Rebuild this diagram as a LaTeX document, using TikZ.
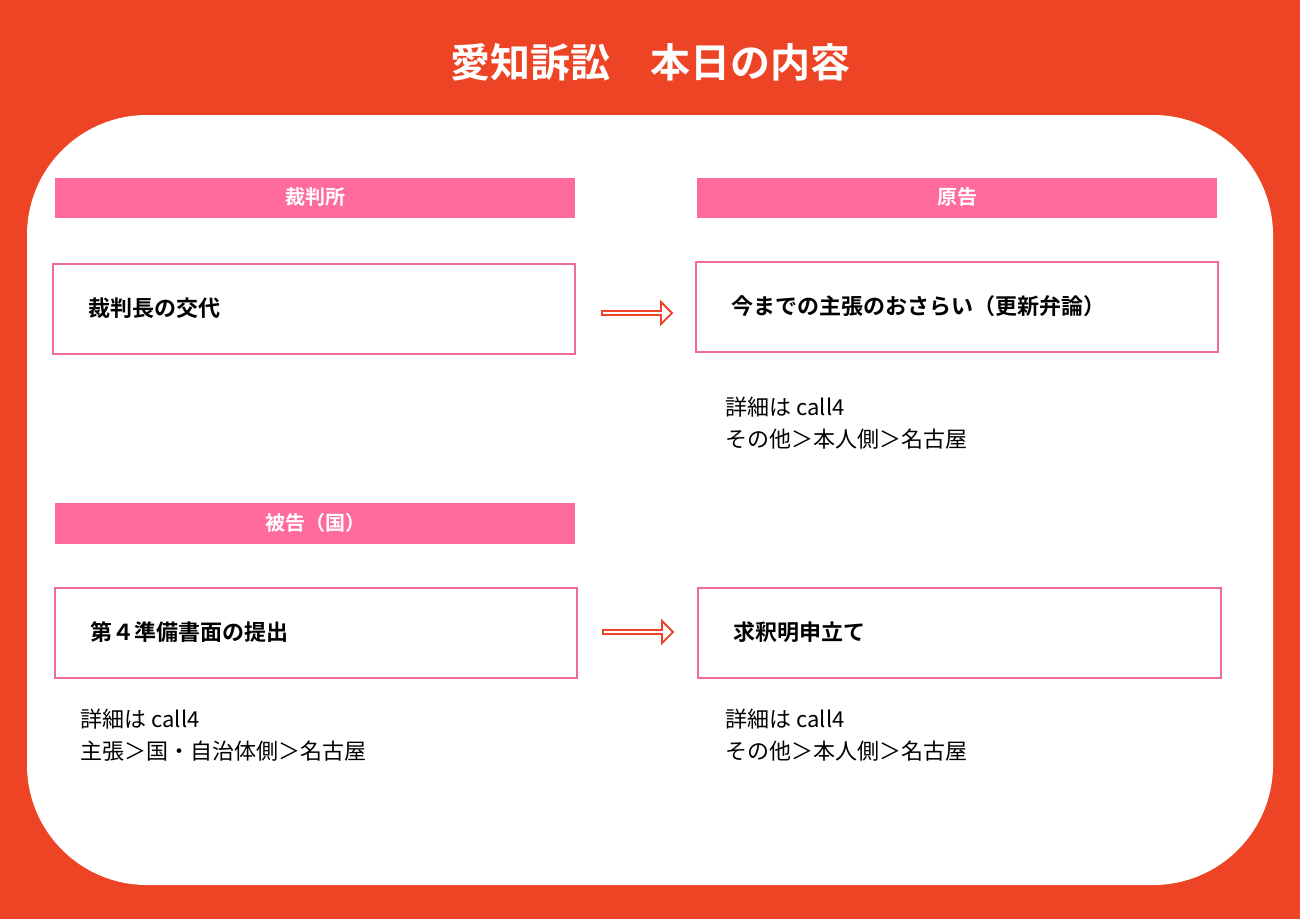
\documentclass[tikz,border=0pt]{standalone}
\usepackage{fontspec}
\setmainfont{Noto Sans CJK JP}
\newfontfamily\jpb{Noto Sans CJK JP Bold}
\usetikzlibrary{shapes.arrows}
\definecolor{bgor}{HTML}{EE4426}
\definecolor{pk}{HTML}{FF6B9A}
\definecolor{bx}{HTML}{F06A9A}
\tikzset{
 hdr/.style={fill=pk,text=white,font=\jpb\fontsize{20}{24}\selectfont},
 bbox/.style={draw=bx,line width=2.5pt,fill=white},
 btxt/.style={anchor=west,font=\jpb\fontsize{22}{26}\selectfont},
 note/.style={anchor=north west,align=left,font=\fontsize{22}{32}\selectfont},
 harrow/.style={single arrow,draw=bgor,line width=1.8pt,fill=white,minimum width=22pt,single arrow head extend=4pt,minimum height=70pt,inner sep=0pt}
}
\begin{document}
\begin{tikzpicture}[x=1pt,y=-1pt]
\fill[bgor] (0,0) rectangle (1300,919);
\fill[white,rounded corners=120pt] (27,115) rectangle (1273,885);
\node[font=\jpb\fontsize{40}{46}\selectfont,text=white] (title) at (650,62) {愛知訴訟\hspace{1em}本日の内容};
\fill[pk] (55,178) rectangle (575,218); \node[hdr] (h1) at (315,197) {裁判所};
\fill[pk] (697,178) rectangle (1217,218); \node[hdr] (h2) at (957,197) {原告};
\fill[pk] (55,503) rectangle (575,544); \node[hdr] (h3) at (315,523) {被告（国）};
\draw[bbox] (53,264) rectangle (575,354); \node[btxt] (b1) at (85,308) {裁判長の交代};
\draw[bbox] (696,262) rectangle (1218,352); \node[btxt] (b2) at (728,306) {今までの主張のおさらい（更新弁論）};
\draw[bbox] (55,588) rectangle (577,678); \node[btxt] (b3) at (87,632) {第４準備書面の提出};
\draw[bbox] (698,588) rectangle (1221,678); \node[btxt] (b4) at (730,632) {求釈明申立て};
\node[harrow] (a1) at (636,313) {};
\node[harrow] (a2) at (637,632) {};
\node[note] (n1) at (722,393) {詳細は call4\\その他＞本人側＞名古屋};
\node[note] (n2) at (77,705) {詳細は call4\\主張＞国・自治体側＞名古屋};
\node[note] (n3) at (722,705) {詳細は call4\\その他＞本人側＞名古屋};
\end{tikzpicture}
\end{document}
